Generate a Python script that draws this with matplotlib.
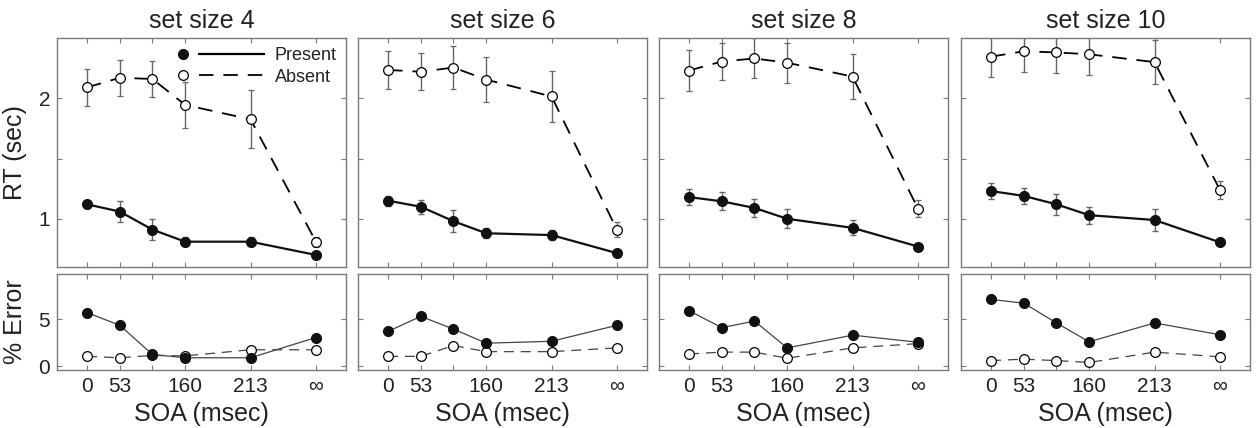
import numpy as np
import matplotlib
matplotlib.use('Agg')
import matplotlib.pyplot as plt
from matplotlib.lines import Line2D
from matplotlib.legend_handler import HandlerBase

plt.rcParams['font.family'] = ['Liberation Sans', 'DejaVu Sans']

# SOA conditions (plotted on an index scale, 213 and inf spaced wider)
soa_pos = [0, 1, 2, 3, 5, 7]
soa_labels = ['0', '53', '', '160', '213', '\u221e']
set_sizes = [4, 6, 8, 10]

# RT (sec), one row per set size
rt_present = [[1.12, 1.06, 0.91, 0.81, 0.81, 0.70],
              [1.15, 1.10, 0.98, 0.88, 0.865, 0.715],
              [1.18, 1.145, 1.09, 1.00, 0.925, 0.77],
              [1.23, 1.19, 1.12, 1.03, 0.99, 0.805]]
rt_present_err = [[0.03, 0.09, 0.085, 0.035, 0.035, 0.015],
                  [0.04, 0.06, 0.09, 0.04, 0.04, 0.02],
                  [0.068, 0.075, 0.075, 0.08, 0.062, 0.015],
                  [0.064, 0.064, 0.086, 0.07, 0.093, 0.02]]
rt_absent = [[2.09, 2.17, 2.16, 1.945, 1.825, 0.81],
             [2.235, 2.22, 2.255, 2.155, 2.015, 0.91],
             [2.23, 2.305, 2.33, 2.295, 2.18, 1.085],
             [2.345, 2.39, 2.38, 2.365, 2.30, 1.24]]
rt_absent_err = [[0.153, 0.15, 0.153, 0.19, 0.24, 0.04],
                 [0.155, 0.155, 0.18, 0.19, 0.21, 0.06],
                 [0.173, 0.152, 0.166, 0.166, 0.186, 0.07],
                 [0.17, 0.17, 0.17, 0.17, 0.18, 0.075]]

# % error
err_present = [[5.7, 4.35, 1.25, 0.9, 0.9, 3.05],
               [3.7, 5.3, 3.95, 2.45, 2.65, 4.35],
               [5.9, 4.1, 4.8, 1.95, 3.3, 2.55],
               [7.1, 6.7, 4.6, 2.6, 4.6, 3.35]]
err_absent = [[1.05, 0.9, 1.15, 1.1, 1.75, 1.75],
              [1.05, 1.05, 2.2, 1.55, 1.55, 1.95],
              [1.3, 1.5, 1.5, 0.85, 1.95, 2.4],
              [0.6, 0.75, 0.6, 0.4, 1.5, 1.0]]

frame_col = '#7a7a7a'
text_col = '#222222'
dash = (0, (8, 5.5))
ms = 7


class MarkerThenLine(HandlerBase):
    # marker on the left, line sample to the right of it
    def create_artists(self, legend, orig, xdescent, ydescent, width, height, fontsize, trans):
        y = height / 2.0 - ydescent
        mk = Line2D([-xdescent + 0.06 * width], [y])
        mk.update_from(orig)
        mk.set_linestyle('none')
        ln = Line2D([-xdescent + 0.25 * width, -xdescent + width], [y, y])
        ln.update_from(orig)
        ln.set_marker('None')
        mk.set_transform(trans)
        ln.set_transform(trans)
        return [mk, ln]


def style_axes(ax):
    for s in ax.spines.values():
        s.set_color(frame_col)
        s.set_linewidth(1.0)
    ax.tick_params(direction='in', length=3.5, width=0.8, color=frame_col,
                   top=True, right=True, labelsize=15, labelcolor=text_col, pad=5)
    ax.set_xlim(-0.92, 7.92)
    ax.set_xticks(soa_pos)


fig = plt.figure(figsize=(12.58, 4.28), dpi=100)
W, H = 1258.0, 428.0
lefts = [57, 358, 659, 961]
pw = 289

for k in range(4):
    ax = fig.add_axes([lefts[k] / W, 1 - 267 / H, pw / W, 229 / H])
    ax2 = fig.add_axes([lefts[k] / W, 1 - 370 / H, pw / W, 96 / H])
    style_axes(ax)
    style_axes(ax2)

    lines_abs = ax.errorbar(soa_pos, rt_absent[k], yerr=rt_absent_err[k], color='k', lw=1.3,
                            marker='o', ms=ms, mfc='white', mec='k', mew=0.9,
                            ecolor='#666666', elinewidth=1.0, capsize=2.5, capthick=1.0)
    lines_abs[0].set_linestyle(dash)
    ax.errorbar(soa_pos, rt_present[k], yerr=rt_present_err[k], color='#111111', ls='-', lw=1.6,
                marker='o', ms=ms, mfc='#111111', mec='#111111',
                ecolor='#666666', elinewidth=1.0, capsize=2.5, capthick=1.0)
    ax.set_ylim(0.6, 2.5)
    ax.set_yticks([1, 1.5, 2])
    ax.set_xticklabels([])
    ax.set_title('set size %d' % set_sizes[k], fontsize=18, color=text_col, pad=7)

    ax2.plot(soa_pos, err_absent[k], color='#444444', ls=dash, lw=0.9,
             marker='o', ms=ms, mfc='white', mec='k', mew=0.9)
    ax2.plot(soa_pos, err_present[k], color='#444444', ls='-', lw=0.9,
             marker='o', ms=ms, mfc='#111111', mec='#111111')
    ax2.set_ylim(-0.4, 9.8)
    ax2.set_yticks([0, 5])
    ax2.set_xticklabels(soa_labels)
    ax2.set_xlabel('SOA (msec)', fontsize=18, color=text_col, labelpad=4)

    if k == 0:
        ax.set_yticklabels(['1', '', '2'])
        ax2.set_yticklabels(['0', '5'])
        ax.set_ylabel('RT (sec)', fontsize=18, color=text_col, labelpad=8)
        ax2.set_ylabel('% Error', fontsize=18, color=text_col, labelpad=8)
        h_pres = Line2D([], [], color='k', lw=1.6, marker='o', ms=ms, mfc='#111111', mec='#111111')
        h_abs = Line2D([], [], color='k', lw=1.3, ls=dash, marker='o', ms=ms, mfc='white',
                       mec='k', mew=0.9)
        ax.legend([h_pres, h_abs], ['Present', 'Absent'], loc='upper right', frameon=False,
                  fontsize=13, handlelength=4.8, handletextpad=0.6, labelspacing=0.25,
                  borderaxespad=0.1, handler_map={Line2D: MarkerThenLine()},
                  labelcolor=text_col)
    else:
        ax.set_yticklabels([])
        ax2.set_yticklabels([])

fig.savefig('out.png', dpi=100)
